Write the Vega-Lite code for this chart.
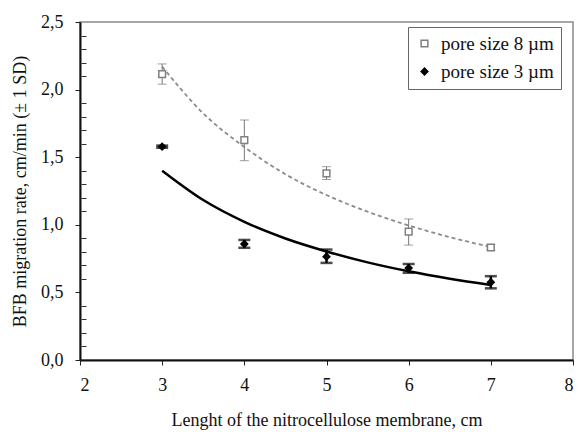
{
  "$schema": "https://vega.github.io/schema/vega-lite/v6.json",
  "autosize": "none",
  "padding": {"left": 80, "top": 22, "right": 6, "bottom": 72},
  "width": 493,
  "height": 338,
  "background": "white",
  "config": {
    "font": "Liberation Serif",
    "view": {"stroke": "#8a8a8a", "strokeWidth": 1.5},
    "axis": {"grid": false, "domainColor": "#111", "domainWidth": 2, "tickColor": "#222", "tickWidth": 1, "labelColor": "#111", "titleColor": "#111", "labelFont": "Liberation Serif", "titleFont": "Liberation Serif", "labelFontSize": 18, "titleFontSize": 18, "titleFontWeight": "normal", "labelOverlap": false},
    "legend": {"labelFont": "Liberation Serif"}
  },
  "resolve": {"axis": {"y": "independent"}},
  "datasets": {
    "points": [
      {"series": "pore size 8 µm", "x": 3, "y": 2.115, "lo": 2.04, "hi": 2.19},
      {"series": "pore size 8 µm", "x": 4, "y": 1.627, "lo": 1.474, "hi": 1.775},
      {"series": "pore size 8 µm", "x": 5, "y": 1.381, "lo": 1.335, "hi": 1.43},
      {"series": "pore size 8 µm", "x": 6, "y": 0.949, "lo": 0.85, "hi": 1.043},
      {"series": "pore size 8 µm", "x": 7, "y": 0.832, "lo": 0.812, "hi": 0.855},
      {"series": "pore size 3 µm", "x": 3, "y": 1.578, "lo": 1.57, "hi": 1.586},
      {"series": "pore size 3 µm", "x": 4, "y": 0.858, "lo": 0.83, "hi": 0.888},
      {"series": "pore size 3 µm", "x": 5, "y": 0.764, "lo": 0.718, "hi": 0.817},
      {"series": "pore size 3 µm", "x": 6, "y": 0.68, "lo": 0.645, "hi": 0.71},
      {"series": "pore size 3 µm", "x": 7, "y": 0.575, "lo": 0.53, "hi": 0.62}
    ],
    "fits": [
      {"series": "pore size 8 µm", "x": 3, "y": 2.17},
      {"series": "pore size 8 µm", "x": 3.5, "y": 1.824},
      {"series": "pore size 8 µm", "x": 4, "y": 1.575},
      {"series": "pore size 8 µm", "x": 4.5, "y": 1.374},
      {"series": "pore size 8 µm", "x": 5, "y": 1.22},
      {"series": "pore size 8 µm", "x": 5.5, "y": 1.097},
      {"series": "pore size 8 µm", "x": 6, "y": 0.995},
      {"series": "pore size 8 µm", "x": 6.5, "y": 0.909},
      {"series": "pore size 8 µm", "x": 7, "y": 0.836},
      {"series": "pore size 3 µm", "x": 3, "y": 1.40},
      {"series": "pore size 3 µm", "x": 3.5, "y": 1.183},
      {"series": "pore size 3 µm", "x": 4, "y": 1.022},
      {"series": "pore size 3 µm", "x": 4.5, "y": 0.899},
      {"series": "pore size 3 µm", "x": 5, "y": 0.803},
      {"series": "pore size 3 µm", "x": 5.5, "y": 0.722},
      {"series": "pore size 3 µm", "x": 6, "y": 0.656},
      {"series": "pore size 3 µm", "x": 6.5, "y": 0.601},
      {"series": "pore size 3 µm", "x": 7, "y": 0.555}
    ]
  },
  "layer": [
    {
      "data": {"name": "fits"},
      "transform": [{"filter": "datum.series == 'pore size 8 µm'"}],
      "mark": {"type": "line", "color": "#8c8c8c", "strokeWidth": 1.8, "strokeDash": [4, 3], "interpolate": "monotone"},
      "encoding": {
        "x": {"field": "x", "type": "quantitative", "scale": {"domain": [2, 8], "nice": false, "zero": false},
          "axis": {"title": "Lenght of the nitrocellulose membrane, cm", "values": [2, 3, 4, 5, 6, 7, 8], "format": "d", "tickSize": 5, "labelPadding": 11, "titlePadding": 17}},
        "y": {"field": "y", "type": "quantitative", "scale": {"domain": [0, 2.5], "nice": false},
          "axis": {"title": "BFB migration rate, cm/min (± 1 SD)", "orient": "left",
            "values": [0, 0.5, 1, 1.5, 2, 2.5],
            "labelExpr": "replace(format(datum.value, '.1f'), '.', ',')",
            "labelOverlap": false,
            "tickSize": 5, "labelPadding": 12, "titlePadding": 11}}
      }
    },
    {
      "data": {"name": "fits"},
      "transform": [{"filter": "datum.series == 'pore size 3 µm'"}],
      "mark": {"type": "line", "color": "#000000", "strokeWidth": 2.5, "interpolate": "monotone"},
      "encoding": {
        "x": {"field": "x", "type": "quantitative"},
        "y": {"field": "y", "type": "quantitative",
          "axis": {"title": null, "orient": "left", "domain": false, "labels": false, "offset": -6,
            "values": [0.1, 0.2, 0.3, 0.4, 0.6, 0.7, 0.8, 0.9, 1.1, 1.2, 1.3, 1.4, 1.6, 1.7, 1.8, 1.9, 2.1, 2.2, 2.3, 2.4],
            "tickSize": 5, "tickColor": "#333", "tickWidth": 1}}
      }
    },
    {
      "data": {"name": "points"},
      "transform": [{"filter": "datum.series == 'pore size 8 µm'"}],
      "mark": {"type": "errorbar", "ticks": {"size": 9, "color": "#777"}, "color": "#777", "thickness": 1},
      "encoding": {
        "x": {"field": "x", "type": "quantitative"},
        "y": {"field": "lo", "type": "quantitative", "axis": null},
        "y2": {"field": "hi"}
      }
    },
    {
      "data": {"name": "points"},
      "transform": [{"filter": "datum.series == 'pore size 3 µm'"}],
      "mark": {"type": "errorbar", "ticks": {"size": 12, "color": "#000"}, "color": "#000", "thickness": 2.5},
      "encoding": {
        "x": {"field": "x", "type": "quantitative"},
        "y": {"field": "lo", "type": "quantitative", "axis": null},
        "y2": {"field": "hi"}
      }
    },
    {
      "data": {"name": "points"},
      "mark": {"type": "point", "size": 45, "strokeWidth": 1.5, "opacity": 1},
      "encoding": {
        "x": {"field": "x", "type": "quantitative"},
        "y": {"field": "y", "type": "quantitative", "axis": null},
        "shape": {"field": "series", "type": "nominal", "scale": {"domain": ["pore size 8 µm", "pore size 3 µm"], "range": ["square", "diamond"]},
          "legend": {"title": null, "orient": "none", "legendX": 328, "legendY": 5, "strokeColor": "#666", "fillColor": "white", "padding": 7, "labelFontSize": 19, "labelFont": "Liberation Serif", "labelColor": "#111", "rowPadding": 8, "labelOffset": 7, "symbolSize": 45, "symbolStrokeWidth": 1.5}},
        "fill": {"field": "series", "type": "nominal", "scale": {"domain": ["pore size 8 µm", "pore size 3 µm"], "range": ["#ffffff", "#000000"]}},
        "stroke": {"field": "series", "type": "nominal", "scale": {"domain": ["pore size 8 µm", "pore size 3 µm"], "range": ["#808080", "#000000"]}}
      }
    }
  ]
}
